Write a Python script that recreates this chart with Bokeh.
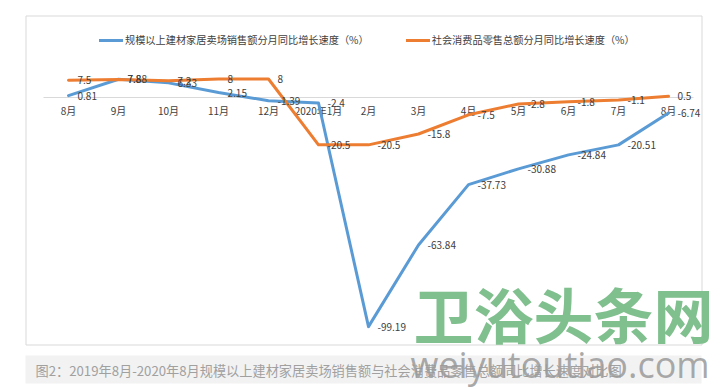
from bokeh.plotting import figure
from bokeh.models import Range1d, Legend, LegendItem, ColumnDataSource, Label
from bokeh.core.properties import value
from bokeh.embed import file_html
from bokeh.resources import INLINE

# ---------------- data ----------------
categories = ["8月", "9月", "10月", "11月", "12月", "2020年1月", "2月",
              "3月", "4月", "5月", "6月", "7月", "8月"]
building_mall_growth = [0.81, 7.88, 6.33, 2.15, -1.39, -2.4, -99.19,
                        -63.84, -37.73, -30.88, -24.84, -20.51, -6.74]
retail_sales_growth = [7.5, 7.8, 7.2, 8, 8, -20.5, -20.5,
                       -15.8, -7.5, -2.8, -1.8, -1.1, 0.5]
building_label = "规模以上建材家居卖场销售额分月同比增长速度（%）"
retail_label = "社会消费品零售总额分月同比增长速度（%）"
caption = "图2：2019年8月-2020年8月规模以上建材家居卖场销售额与社会消费品零售总额同比增长速度对比图"
watermark = "卫浴头条网"
watermark_url = "weiyutoutiao.com"

# ---------------- layout ----------------
W, H = 724, 389
X0, DX = 68, 50      # px of first category centre, px per category
Y0, KY = 97, 2.31    # px of the zero line, px per percent

def dx(cx):
    return (cx - X0) / DX

def dy(cy):
    return (Y0 - cy) / KY

CJK = "Noto Sans CJK SC"
BLUE = "#5b9bd5"
ORANGE = "#ed7d31"

p = figure(width=W, height=H, output_backend="svg", toolbar_location=None,
           x_range=Range1d(dx(0), dx(W)), y_range=Range1d(dy(H), dy(0)),
           x_axis_location=None, y_axis_location=None, min_border=0)
p.grid.visible = False
p.outline_line_color = None
p.background_fill_color = "white"
p.border_fill_color = "white"

n = len(categories)
idx = list(range(n))

# caption band
p.quad(left=dx(25), right=dx(701), top=dy(355), bottom=dy(383),
       fill_color="#f2f2f2", line_color=None)
# chart frame
p.quad(left=dx(25.5), right=dx(701.5), top=dy(15.5), bottom=dy(344.5),
       fill_color=None, line_color="#d9d9d9", line_width=1)

# zero axis line
p.line(x=[-0.5, n - 0.5], y=[0, 0], line_color="#d9d9d9", line_width=1)

# category labels sitting below the zero line
src_ticks = ColumnDataSource(dict(x=idx, y=[0] * n, t=categories))
p.text(x="x", y="y", text="t", source=src_ticks, text_align="center",
       text_baseline="middle", y_offset=13, text_font=value(CJK),
       text_font_size="10px", text_color="#404040")

src = ColumnDataSource(dict(
    x=idx, b=building_mall_growth, r=retail_sales_growth,
    bt=[f"{v:g}" for v in building_mall_growth],
    rt=[f"{v:g}" for v in retail_sales_growth]))

r_blue = p.line(x="x", y="b", source=src, line_color=BLUE, line_width=3,
                line_join="round", line_cap="round")
r_orange = p.line(x="x", y="r", source=src, line_color=ORANGE, line_width=3,
                  line_join="round", line_cap="round")

for col, tcol in (("b", "bt"), ("r", "rt")):
    p.text(x="x", y=col, text=tcol, source=src, text_align="left",
           text_baseline="middle", x_offset=9, text_font=value(CJK),
           text_font_size="10px", text_color="#404040")

legend = Legend(items=[LegendItem(label=building_label, renderers=[r_blue]),
                       LegendItem(label=retail_label, renderers=[r_orange])],
                orientation="horizontal", location=(99, 342),
                border_line_color=None, background_fill_alpha=0,
                padding=0, margin=0, spacing=37, glyph_width=24,
                glyph_height=14, label_height=14, label_standoff=2,
                label_text_font=CJK, label_text_font_size="10.2px",
                label_text_color="#404040")
p.add_layout(legend)

# caption text
p.add_layout(Label(x=dx(35), y=dy(370), text=caption, text_font=CJK,
                   text_font_size="13.2px", text_color="#a0a0a0",
                   text_baseline="middle", text_align="left"))

# watermark
p.add_layout(Label(x=dx(413), y=dy(312), text=watermark, text_font=CJK,
                   text_font_size="60px", text_font_style="bold",
                   text_color="#80bf8e", text_baseline="middle",
                   text_align="left"))
p.add_layout(Label(x=dx(410), y=dy(364), text=watermark_url,
                   text_font="Open Sans", text_font_size="36px",
                   text_color="#9a9a9a", text_alpha=0.85,
                   text_baseline="middle", text_align="left"))

open("out.html", "w").write(file_html(p, INLINE))
